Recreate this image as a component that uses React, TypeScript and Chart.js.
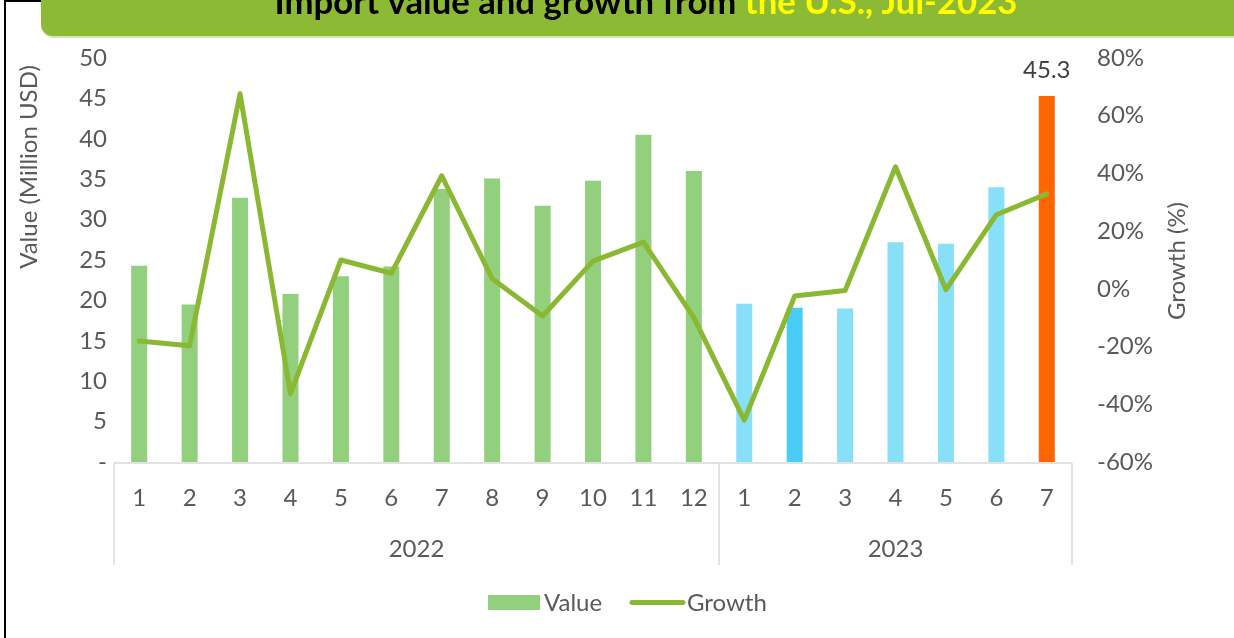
import React, { useEffect, useRef } from "react";
import { Chart, registerables } from "chart.js";

Chart.register(...registerables);

// ---------- data ----------
const years = ["2022", "2023"];
const monthLabels = ["1", "2", "3", "4", "5", "6", "7", "8", "9", "10", "11", "12", "1", "2", "3", "4", "5", "6", "7"];
const monthYear = ["2022", "2022", "2022", "2022", "2022", "2022", "2022", "2022", "2022", "2022", "2022", "2022", "2023", "2023", "2023", "2023", "2023", "2023", "2023"];
const importValue = [24.3, 19.5, 32.7, 20.8, 23.0, 24.2, 33.8, 35.1, 31.7, 34.8, 40.5, 36.0, 19.6, 19.1, 19.0, 27.2, 27.0, 34.0, 45.3];
const growthPct = [-18.1, -19.7, 67.6, -36.3, 10.0, 5.4, 39.2, 3.5, -9.4, 9.6, 16.2, -10.0, -45.5, -2.5, -0.6, 42.3, -0.3, 25.7, 32.9];
const valueTicks = [0, 5, 10, 15, 20, 25, 30, 35, 40, 45, 50];
const valueTickLabels = ["-", "5", "10", "15", "20", "25", "30", "35", "40", "45", "50"];
const growthTicks = [-60, -40, -20, 0, 20, 40, 60, 80];
const growthTickLabels = ["-60%", "-40%", "-20%", "0%", "20%", "40%", "60%", "80%"];
const labelledIndex = 18; // bar carrying the value label

const TITLE_BLACK = "Import value and growth from ";
const TITLE_YELLOW = "the U.S., Jul-2023";
const Y_TITLE = "Value (Million USD)";
const Y1_TITLE = "Growth (%)";
const LEGEND_VALUE = "Value";
const LEGEND_GROWTH = "Growth";

// ---------- styles ----------
const GREEN_BAR = "#93D07D";
const BLUE_BAR = "#87DFF8";
const BLUE_DARK = "#49CDF6";
const ORANGE = "#FF6600";
const LINE_GREEN = "#8BB833";
const BANNER = "#8CBA35";
const TEXT = "#595959";
const FONT = "Lato, 'Open Sans', sans-serif";
const FONT_SIZE = 24;

const barColors = [
  GREEN_BAR, GREEN_BAR, GREEN_BAR, GREEN_BAR, GREEN_BAR, GREEN_BAR,
  GREEN_BAR, GREEN_BAR, GREEN_BAR, GREEN_BAR, GREEN_BAR, GREEN_BAR,
  BLUE_BAR, BLUE_DARK, BLUE_BAR, BLUE_BAR, BLUE_BAR, BLUE_BAR, ORANGE,
];

export default function App() {
  const ref = useRef<HTMLCanvasElement>(null);

  useEffect(() => {
    document.body.style.margin = "0";
    const canvas = ref.current!;

    const overlay = {
      id: "overlay",
      beforeDraw(chart: any) {
        const ctx: CanvasRenderingContext2D = chart.ctx;
        const W = chart.width;
        const H = chart.height;
        ctx.save();
        ctx.fillStyle = "#ffffff";
        ctx.fillRect(0, 0, W, H);

        // outer frame
        ctx.strokeStyle = "#000000";
        ctx.lineWidth = 2;
        ctx.strokeRect(5, 1, W + 20, H + 20);

        // banner (with light edge under it)
        ctx.fillStyle = "#D3E7B0";
        ctx.beginPath();
        (ctx as any).roundRect(41, -14, W - 41 + 30, 52, [0, 0, 0, 13]);
        ctx.fill();
        ctx.fillStyle = BANNER;
        ctx.beginPath();
        (ctx as any).roundRect(41, -14, W - 41 + 30, 50, [0, 0, 0, 12]);
        ctx.fill();

        // title text (cut at the top)
        ctx.font = `bold 100px ${FONT}`;
        const wb0 = ctx.measureText(TITLE_BLACK).width;
        const wy0 = ctx.measureText(TITLE_YELLOW).width;
        const size = (100 * 743) / (wb0 + wy0);
        ctx.font = `bold ${size}px ${FONT}`;
        const wb = ctx.measureText(TITLE_BLACK).width;
        const wy = ctx.measureText(TITLE_YELLOW).width;
        const x0 = 646 - (wb + wy) / 2;
        ctx.textBaseline = "alphabetic";
        ctx.textAlign = "left";
        ctx.fillStyle = "#000000";
        ctx.fillText(TITLE_BLACK, x0, 13.5);
        ctx.fillStyle = "#FFFF00";
        ctx.fillText(TITLE_YELLOW, x0 + wb, 13.5);

        // axis titles
        ctx.font = `${FONT_SIZE}px ${FONT}`;
        ctx.fillStyle = TEXT;
        ctx.textAlign = "center";
        ctx.textBaseline = "middle";
        ctx.save();
        ctx.translate(29, 167);
        ctx.rotate(-Math.PI / 2);
        ctx.fillText(Y_TITLE, 0, 0);
        ctx.restore();
        ctx.save();
        ctx.translate(1177, 261);
        ctx.rotate(-Math.PI / 2);
        ctx.fillText(Y1_TITLE, 0, 0);
        ctx.restore();

        // x axis line + group separators
        const xs = chart.scales.x;
        const area = chart.chartArea;
        const yb = area.bottom;
        ctx.strokeStyle = "#D9D9D9";
        ctx.lineWidth = 1.5;
        ctx.beginPath();
        ctx.moveTo(xs.left, yb + 1);
        ctx.lineTo(xs.right, yb + 1);
        const bounds: number[] = [xs.left];
        for (let i = 1; i < monthYear.length; i++) {
          if (monthYear[i] !== monthYear[i - 1]) {
            bounds.push((xs.getPixelForValue(i - 1) + xs.getPixelForValue(i)) / 2);
          }
        }
        bounds.push(xs.right);
        bounds.forEach((bx) => {
          ctx.moveTo(bx, yb + 1);
          ctx.lineTo(bx, 565);
        });
        ctx.stroke();

        // month labels
        ctx.fillStyle = TEXT;
        ctx.textAlign = "center";
        ctx.textBaseline = "alphabetic";
        monthLabels.forEach((m, i) => {
          ctx.fillText(m, xs.getPixelForValue(i), 506);
        });
        // year labels
        years.forEach((y, k) => {
          ctx.fillText(y, (bounds[k] + bounds[k + 1]) / 2, 557);
        });
        ctx.restore();
      },
      afterDatasetsDraw(chart: any) {
        const ctx: CanvasRenderingContext2D = chart.ctx;
        ctx.save();
        // value label
        const barMeta = chart.getDatasetMeta(1);
        const bar = barMeta.data[labelledIndex];
        ctx.font = `${FONT_SIZE}px ${FONT}`;
        ctx.fillStyle = "#404040";
        ctx.textAlign = "center";
        ctx.textBaseline = "alphabetic";
        ctx.fillText(String(importValue[labelledIndex]), bar.x, bar.y - 18);

        // legend
        ctx.fillStyle = GREEN_BAR;
        ctx.fillRect(488, 595, 52, 15);
        ctx.fillStyle = TEXT;
        ctx.textAlign = "left";
        ctx.fillText(LEGEND_VALUE, 544, 611);
        ctx.strokeStyle = LINE_GREEN;
        ctx.lineWidth = 5;
        ctx.lineCap = "round";
        ctx.beginPath();
        ctx.moveTo(632, 602.5);
        ctx.lineTo(683, 602.5);
        ctx.stroke();
        ctx.fillText(LEGEND_GROWTH, 687, 611);
        ctx.restore();
      },
    };

    const tickFont = { family: FONT, size: FONT_SIZE };

    const chart = new Chart(canvas, {
      data: {
        labels: monthLabels,
        datasets: [
          {
            type: "line",
            label: LEGEND_GROWTH,
            data: growthPct,
            yAxisID: "y1",
            borderColor: LINE_GREEN,
            backgroundColor: LINE_GREEN,
            borderWidth: 5,
            pointRadius: 0,
            tension: 0,
            borderCapStyle: "round",
            borderJoinStyle: "round",
            order: 0,
          } as any,
          {
            type: "bar",
            label: LEGEND_VALUE,
            data: importValue,
            yAxisID: "y",
            backgroundColor: barColors,
            barPercentage: 16 / 50.4,
            categoryPercentage: 1,
            order: 1,
          } as any,
        ],
      },
      options: {
        responsive: false,
        animation: false,
        devicePixelRatio: 1,
        layout: { padding: { top: 58, bottom: 73, left: 0, right: 0 } },
        plugins: {
          legend: { display: false },
          tooltip: { enabled: false },
          title: { display: false },
        },
        scales: {
          x: {
            type: "category",
            grid: { display: false },
            border: { display: false },
            ticks: { display: false },
            afterFit: (s: any) => {
              s.height = 103;
            },
          },
          y: {
            position: "left",
            min: 0,
            max: 50,
            grid: { display: false, drawTicks: false },
            border: { display: false },
            afterBuildTicks: (s: any) => {
              s.ticks = valueTicks.map((v) => ({ value: v }));
            },
            ticks: {
              font: tickFont,
              color: TEXT,
              padding: 7,
              callback: (v: any) => valueTickLabels[valueTicks.indexOf(Number(v))],
            },
            afterFit: (s: any) => {
              s.width = 114;
            },
          },
          y1: {
            position: "right",
            min: -60,
            max: 80,
            grid: { display: false, drawTicks: false },
            border: { display: false },
            afterBuildTicks: (s: any) => {
              s.ticks = growthTicks.map((v) => ({ value: v }));
            },
            ticks: {
              font: tickFont,
              color: TEXT,
              padding: 25,
              callback: (v: any) => growthTickLabels[growthTicks.indexOf(Number(v))],
            },
            afterFit: (s: any) => {
              s.width = 162;
            },
          },
        },
      } as any,
      plugins: [overlay],
    });

    return () => chart.destroy();
  }, []);

  return (
    <canvas
      ref={ref}
      width={1234}
      height={638}
      style={{ display: "block", width: 1234, height: 638 }}
    />
  );
}
